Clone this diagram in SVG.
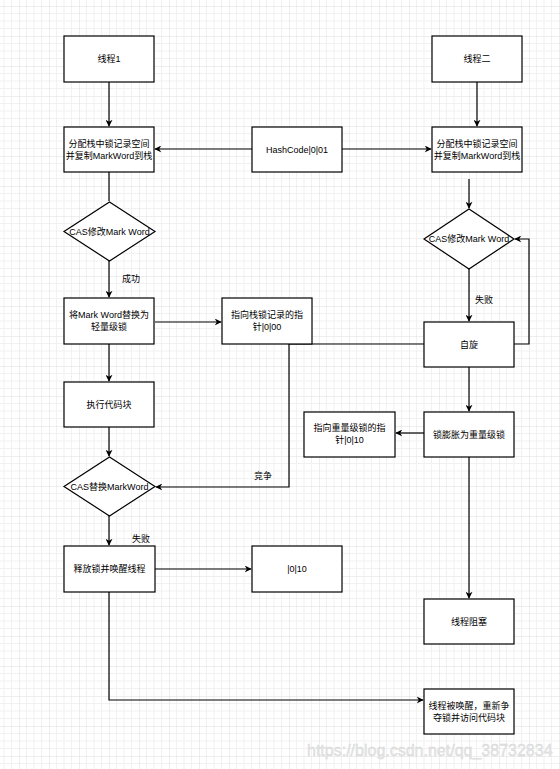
<svg xmlns="http://www.w3.org/2000/svg" width="560" height="769" viewBox="0 0 560 769">
<defs>
<pattern id="grid" patternUnits="userSpaceOnUse" x="19" y="6" width="30" height="30">
<path d="M7.5 0V30M15 0V30M22.5 0V30M0 7.5H30M0 15H30M0 22.5H30" stroke="#f1f1f1" stroke-width="1" fill="none"/>
<path d="M0 0V30M0 0H30" stroke="#dedede" stroke-width="1" fill="none"/>
</pattern>
<marker id="ah" viewBox="0 0 10 10" refX="9" refY="5" markerWidth="7" markerHeight="7" orient="auto" markerUnits="userSpaceOnUse">
<path d="M0 0L10 5L0 10L3 5Z" fill="#000"/>
</marker>
</defs>
<style>
.n{fill:#fff;stroke:#000;stroke-width:1.2}
.t{font-family:"Liberation Sans","Noto Sans CJK SC",sans-serif;font-size:9px;fill:#000;text-anchor:middle;dominant-baseline:central}
.l{font-family:"Liberation Sans","Noto Sans CJK SC",sans-serif;font-size:9px;fill:#000;text-anchor:middle;dominant-baseline:central}
.c{fill:none;stroke:#000;stroke-width:1.2}
</style>
<rect width="560" height="769" fill="#fff"/>
<rect width="560" height="769" fill="url(#grid)"/>
<g id="connectors">
<path class="c" d="M109 82V126" marker-end="url(#ah)"/>
<path class="c" d="M477 82V126" marker-end="url(#ah)"/>
<path class="c" d="M252 149H155" marker-end="url(#ah)"/>
<path class="c" d="M342 149H431" marker-end="url(#ah)"/>
<path class="c" d="M109 172V201"/>
<path class="c" d="M469 179V208" marker-end="url(#ah)"/>
<path class="c" d="M109 261V297" marker-end="url(#ah)"/>
<path class="c" d="M469 269V321" marker-end="url(#ah)"/>
<path class="c" d="M514 344H529V239H515" marker-end="url(#ah)"/>
<path class="c" d="M155 322H221" marker-end="url(#ah)"/>
<path class="c" d="M424 344H289V487H156" marker-end="url(#ah)"/>
<path class="c" d="M109 344V381" marker-end="url(#ah)"/>
<path class="c" d="M109 427V456" marker-end="url(#ah)"/>
<path class="c" d="M469 367V411" marker-end="url(#ah)"/>
<path class="c" d="M424 433H396" marker-end="url(#ah)"/>
<path class="c" d="M469 457V598" marker-end="url(#ah)"/>
<path class="c" d="M109 516V545" marker-end="url(#ah)"/>
<path class="c" d="M155 569H251" marker-end="url(#ah)"/>
<path class="c" d="M109 592V700H423" marker-end="url(#ah)"/>
<text class="l" x="131" y="279">成功</text>
<text class="l" x="484" y="300">失败</text>
<text class="l" x="263" y="476">竞争</text>
<text class="l" x="141" y="539">失败</text>
</g>
<g id="thread1"><rect class="n" x="64" y="36" width="90" height="46"/><text class="t" x="109" y="59">线程1</text></g>
<g id="thread2"><rect class="n" x="432" y="36" width="90" height="46"/><text class="t" x="477" y="59">线程二</text></g>
<g id="alloc1"><rect class="n" x="64" y="127" width="90" height="45"/><text class="t" x="109" y="144">分配栈中锁记录空间</text><text class="t" x="109" y="156">并复制MarkWord到栈</text></g>
<g id="hashcode"><rect class="n" x="252" y="127" width="90" height="45"/><text class="t" x="297" y="149.5">HashCode|0|01</text></g>
<g id="alloc2"><rect class="n" x="432" y="127" width="90" height="45"/><text class="t" x="477" y="144">分配栈中锁记录空间</text><text class="t" x="477" y="156">并复制MarkWord到栈</text></g>
<g id="cas1"><polygon class="n" points="109.5,202 155,231.5 109.5,261 64,231.5"/><text class="t" x="109.5" y="231.5">CAS修改Mark Word</text></g>
<g id="cas2"><polygon class="n" points="469,209 514,239 469,269 424,239"/><text class="t" x="469" y="239">CAS修改Mark Word</text></g>
<g id="replace"><rect class="n" x="64" y="298" width="90" height="46"/><text class="t" x="109" y="315">将Mark Word替换为</text><text class="t" x="109" y="327">轻量级锁</text></g>
<g id="ptr00"><rect class="n" x="222" y="298" width="90" height="46"/><text class="t" x="267" y="315">指向栈锁记录的指</text><text class="t" x="267" y="327">针|0|00</text></g>
<g id="spin"><rect class="n" x="424" y="322" width="90" height="45"/><text class="t" x="469" y="344.5">自旋</text></g>
<g id="exec"><rect class="n" x="64" y="382" width="90" height="45"/><text class="t" x="109" y="404.5">执行代码块</text></g>
<g id="ptr10"><rect class="n" x="304" y="412" width="91" height="45"/><text class="t" x="349.5" y="428">指向重量级锁的指</text><text class="t" x="349.5" y="440">针|0|10</text></g>
<g id="inflate"><rect class="n" x="424" y="412" width="90" height="45"/><text class="t" x="469" y="434.5">锁膨胀为重量级锁</text></g>
<g id="cas3"><polygon class="n" points="109.5,457 155,486.5 109.5,516 64,486.5"/><text class="t" x="109.5" y="486.5">CAS替换MarkWord</text></g>
<g id="release"><rect class="n" x="64" y="546" width="91" height="46"/><text class="t" x="109.5" y="569">释放锁并唤醒线程</text></g>
<g id="flag10"><rect class="n" x="252" y="546" width="90" height="46"/><text class="t" x="297" y="569">|0|10</text></g>
<g id="block"><rect class="n" x="424" y="599" width="90" height="45"/><text class="t" x="469" y="621.5">线程阻塞</text></g>
<g id="wake"><rect class="n" x="424" y="689" width="90" height="45"/><text class="t" x="469" y="706">线程被唤醒，重新争</text><text class="t" x="469" y="718">夺锁并访问代码块</text></g>
<text x="307" y="756" font-family="Liberation Sans, Arial, sans-serif" font-size="16" fill="#e6e6e6" stroke="#d0d0d0" stroke-width="0.3">https://blog.csdn.net/qq_38732834</text>
</svg>
